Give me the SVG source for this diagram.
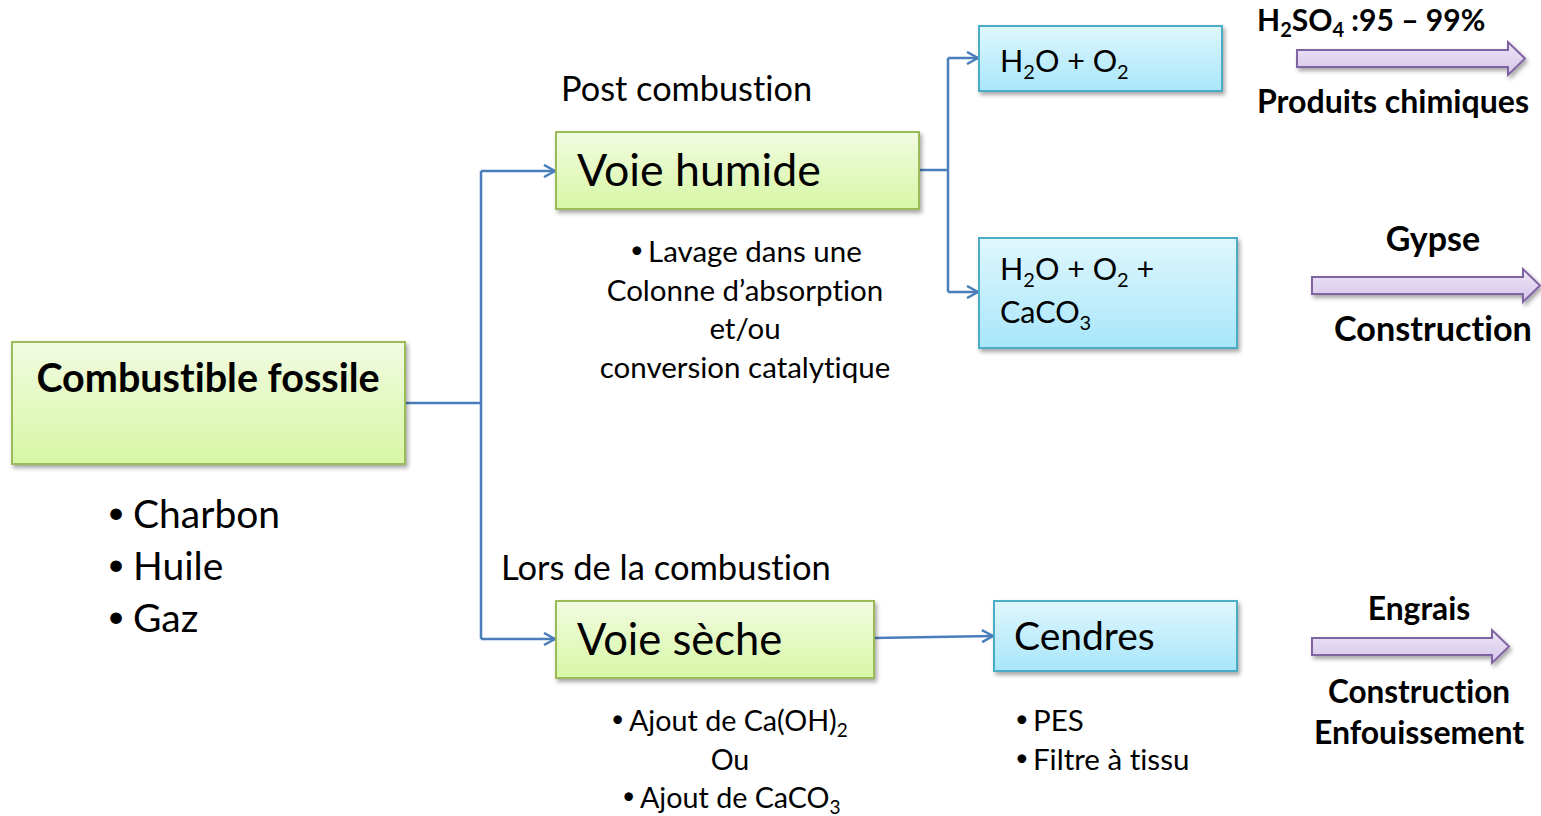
<svg xmlns="http://www.w3.org/2000/svg" width="1541" height="816" viewBox="0 0 1541 816">
  <defs>
    <linearGradient id="gGreen" x1="0" y1="0" x2="0" y2="1">
      <stop offset="0" stop-color="#F1FBE1"/>
      <stop offset="1" stop-color="#D7F7A5"/>
    </linearGradient>
    <linearGradient id="gBlue" x1="0" y1="0" x2="0" y2="1">
      <stop offset="0" stop-color="#DFF7FD"/>
      <stop offset="1" stop-color="#A8E6FA"/>
    </linearGradient>
    <linearGradient id="gPurple" x1="0" y1="0" x2="0" y2="1">
      <stop offset="0" stop-color="#EDE5F6"/>
      <stop offset="1" stop-color="#D5C7EA"/>
    </linearGradient>
    <filter id="shadow" x="-10%" y="-20%" width="130%" height="160%">
      <feDropShadow dx="2" dy="3" stdDeviation="2" flood-color="#000" flood-opacity="0.35"/>
    </filter>
    <marker id="open" markerWidth="14" markerHeight="14" refX="12" refY="7" orient="auto" markerUnits="userSpaceOnUse">
      <path d="M1,1 L12,7 L1,13" fill="none" stroke="#4A7EBB" stroke-width="2.5"/>
    </marker>
  </defs>
  <style>
    text { font-family: Lato, "Liberation Sans", sans-serif; fill: #000; font-variant-ligatures: none; }
    .b { font-weight: bold; }
    .c { text-anchor: middle; }
    .dot { font-size: 0.8em; }
    .green { fill: url(#gGreen); stroke: #9BBB59; stroke-width: 2; filter: url(#shadow); }
    .blue { fill: url(#gBlue); stroke: #4BACC6; stroke-width: 2; filter: url(#shadow); }
    .fat { fill: url(#gPurple); stroke: #8064A2; stroke-width: 2; filter: url(#shadow); }
    .link { fill: none; stroke: #4A7EBB; stroke-width: 2.5; }
  </style>

  <rect width="1541" height="816" fill="#FFFFFF"/>

  <!-- connectors -->
  <g id="connectors">
    <path class="link" d="M405,403 H481"/>
    <path class="link" d="M481,171 V639"/>
    <path class="link" d="M481,171 H555" marker-end="url(#open)"/>
    <path class="link" d="M481,639 H555" marker-end="url(#open)"/>
    <path class="link" d="M919,170 H948"/>
    <path class="link" d="M948,58 V292"/>
    <path class="link" d="M948,58 H978" marker-end="url(#open)"/>
    <path class="link" d="M948,292 H978" marker-end="url(#open)"/>
    <path class="link" d="M874,638 L993,636" marker-end="url(#open)"/>
  </g>

  <!-- source -->
  <g id="combustible">
    <rect class="green" x="12" y="342" width="393" height="122"/>
    <text class="b" x="208" y="392" text-anchor="middle" font-size="39.5">Combustible fossile</text>
  </g>
  <g id="types" font-size="39">
    <text x="107" y="528"><tspan class="dot" dy="-5">•</tspan><tspan x="133" dy="5">Charbon</tspan></text>
    <text x="107" y="580"><tspan class="dot" dy="-5">•</tspan><tspan x="133" dy="5">Huile</tspan></text>
    <text x="107" y="632"><tspan class="dot" dy="-5">•</tspan><tspan x="133" dy="5">Gaz</tspan></text>
  </g>

  <!-- wet route -->
  <g id="voie-humide">
    <text x="561" y="101" font-size="34.3">Post combustion</text>
    <rect class="green" x="556" y="132" width="363" height="77"/>
    <text x="577" y="186" font-size="44.7">Voie humide</text>
    <text x="630" y="262" font-size="29.5"><tspan class="dot" dy="-4">•</tspan><tspan x="648" dy="4">Lavage dans une</tspan></text>
    <text class="c" x="745" y="301" font-size="29.5">Colonne d’absorption</text>
    <text class="c" x="745" y="339" font-size="29.5">et/ou</text>
    <text class="c" x="745" y="378" font-size="29.5">conversion catalytique</text>
  </g>

  <g id="h2o-o2">
    <rect class="blue" x="979" y="26" width="243" height="65"/>
    <text x="1000" y="72" font-size="30.5">H<tspan font-size="20" dy="7">2</tspan><tspan dy="-7">O + O</tspan><tspan font-size="20" dy="7">2</tspan></text>
  </g>

  <g id="h2o-o2-caco3">
    <rect class="blue" x="979" y="238" width="258" height="110"/>
    <text x="1000" y="280" font-size="30.5">H<tspan font-size="20" dy="7">2</tspan><tspan dy="-7">O + O</tspan><tspan font-size="20" dy="7">2</tspan><tspan dy="-7"> +</tspan></text>
    <text x="1000" y="323" font-size="30.5">CaCO<tspan font-size="20" dy="7">3</tspan></text>
  </g>

  <!-- dry route -->
  <g id="voie-seche">
    <text x="501" y="580" font-size="34.5">Lors de la combustion</text>
    <rect class="green" x="556" y="601" width="318" height="77"/>
    <text x="577" y="655" font-size="43.5">Voie sèche</text>
    <text x="611" y="731" font-size="28.7"><tspan class="dot" dy="-4">•</tspan><tspan x="629" dy="4">Ajout de Ca(OH)</tspan><tspan font-size="19" dy="6">2</tspan></text>
    <text class="c" x="730" y="770" font-size="28.7">Ou</text>
    <text x="622" y="808" font-size="28.7"><tspan class="dot" dy="-4">•</tspan><tspan x="640" dy="4">Ajout de CaCO</tspan><tspan font-size="19" dy="6">3</tspan></text>
  </g>

  <g id="cendres">
    <rect class="blue" x="994" y="601" width="243" height="70"/>
    <text x="1014" y="650" font-size="39">Cendres</text>
    <text x="1015" y="731" font-size="29.5"><tspan class="dot" dy="-4">•</tspan><tspan x="1033" dy="4">PES</tspan></text>
    <text x="1015" y="770" font-size="29.5"><tspan class="dot" dy="-4">•</tspan><tspan x="1033" dy="4">Filtre à tissu</tspan></text>
  </g>

  <!-- outlets -->
  <g id="acide">
    <text class="b" x="1257" y="31" font-size="30">H<tspan font-size="20" dy="6">2</tspan><tspan dy="-6">SO</tspan><tspan font-size="20" dy="6">4</tspan><tspan dy="-6"> :95 – 99%</tspan></text>
    <path class="fat" d="M1297,50 H1508 V42 L1525,58.5 L1508,75 V67 H1297 Z"/>
    <text class="b" x="1257" y="113" font-size="32.1">Produits chimiques</text>
  </g>

  <g id="gypse">
    <text class="b c" x="1433" y="251" font-size="34">Gypse</text>
    <path class="fat" d="M1312,277 H1523 V269 L1540,285.5 L1523,302 V294 H1312 Z"/>
    <text class="b c" x="1433" y="341" font-size="34.2">Construction</text>
  </g>

  <g id="engrais">
    <text class="b c" x="1419" y="620" font-size="31.8">Engrais</text>
    <path class="fat" d="M1312,638 H1492 V630 L1509,646.5 L1492,663 V655 H1312 Z"/>
    <text class="b c" x="1419" y="703" font-size="31.5">Construction</text>
    <text class="b c" x="1419" y="744" font-size="32">Enfouissement</text>
  </g>
</svg>
